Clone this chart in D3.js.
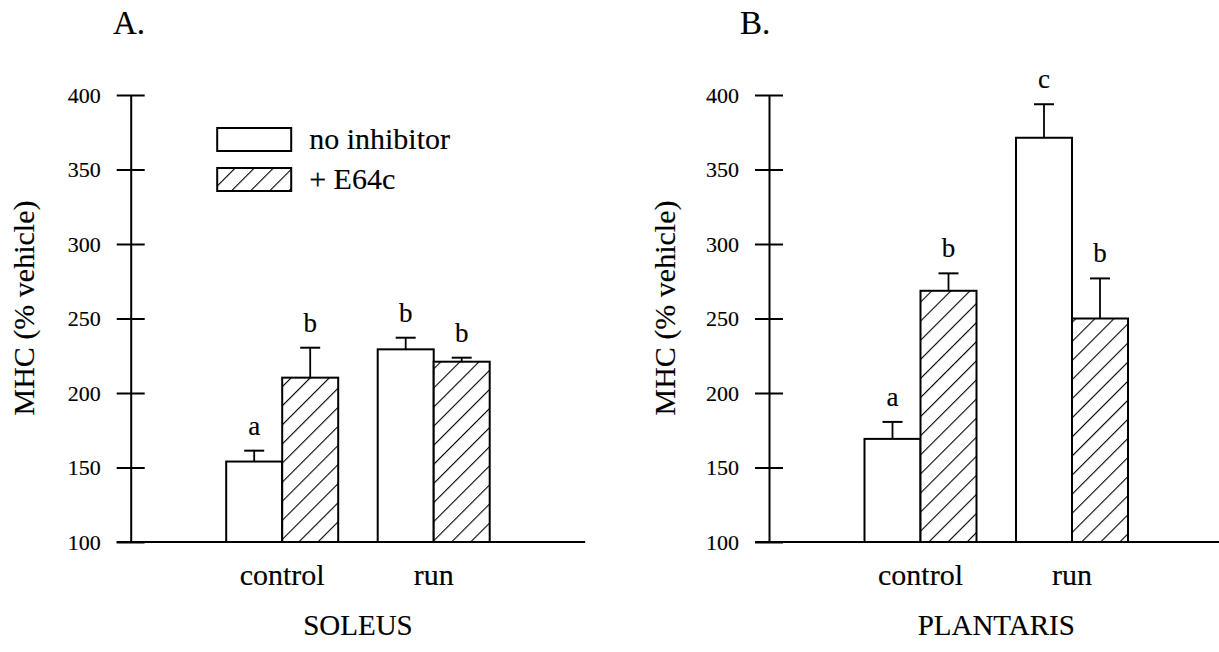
<!DOCTYPE html>
<html>
<head>
<meta charset="utf-8">
<script src="https://cdn.jsdelivr.net/npm/d3@7"></script>
<style>
  html, body { margin: 0; padding: 0; background: #fff; }
  svg { display: block; }
  text { font-family: "Liberation Serif", "Times New Roman", serif; fill: #000; stroke: #000; stroke-width: 0.15px; }
</style>
</head>
<body>
<svg id="chart" width="1219" height="652"></svg>
<script>
// ---- data ----
const categories = ["control", "run"];
const seriesNames = ["no inhibitor", "+ E64c"];
const yTicks = [100, 150, 200, 250, 300, 350, 400];

// SOLEUS (panel A)
const soleusNoInhibitor = [154, 229.3];
const soleusNoInhibitorErr = [7.3, 7.8];
const soleusE64c = [210.3, 221];
const soleusE64cErr = [20.1, 2.7];
const soleusNoInhibitorLetters = ["a", "b"];
const soleusE64cLetters = ["b", "b"];

// PLANTARIS (panel B)
const plantarisNoInhibitor = [169.2, 371.3];
const plantarisNoInhibitorErr = [11.4, 22.5];
const plantarisE64c = [268.6, 250];
const plantarisE64cErr = [11.7, 26.9];
const plantarisNoInhibitorLetters = ["a", "c"];
const plantarisE64cLetters = ["b", "b"];

const panels = [
  { label: "A.", muscle: "SOLEUS", axisX: 130.7, titleX: 113, ylabX: 34, legend: true,
    values: [soleusNoInhibitor, soleusE64c], errs: [soleusNoInhibitorErr, soleusE64cErr],
    letters: [soleusNoInhibitorLetters, soleusE64cLetters] },
  { label: "B.", muscle: "PLANTARIS", axisX: 769, titleX: 740, ylabX: 675, legend: false,
    values: [plantarisNoInhibitor, plantarisE64c], errs: [plantarisNoInhibitorErr, plantarisE64cErr],
    letters: [plantarisNoInhibitorLetters, plantarisE64cLetters] }
];

// ---- layout ----
const plotTop = 95, plotBottom = 542, plotWidth = 454.5;
const barWidth = 56, capHalf = 10, tickHalf = 14;
const ink = "#000";

const svg = d3.select("#chart");

// diagonal hatch for the E64c bars
const defs = svg.append("defs");
const pat = defs.append("pattern")
  .attr("id", "hatch")
  .attr("patternUnits", "userSpaceOnUse")
  .attr("width", 13.5).attr("height", 13.5)
  .attr("patternTransform", "rotate(45)");
pat.append("rect").attr("width", 13.5).attr("height", 13.5).attr("fill", "#fff");
pat.append("line").attr("x1", 0).attr("y1", 0).attr("x2", 0).attr("y2", 13.5)
  .attr("stroke", ink).attr("stroke-width", 2.2);

const fills = ["#fff", "url(#hatch)"];

const y = d3.scaleLinear().domain([100, 400]).range([plotBottom, plotTop]);

panels.forEach(p => {
  const g = svg.append("g");
  const x = d3.scalePoint().domain(categories)
    .range([p.axisX, p.axisX + plotWidth]).padding(1);
  const inner = d3.scaleBand().domain(seriesNames).range([-barWidth, barWidth]);

  // panel letter
  g.append("text").attr("x", p.titleX).attr("y", 34)
    .attr("font-size", 33).text(p.label);

  // y axis
  const yAxis = d3.axisLeft(y).tickValues(yTicks)
    .tickSizeInner(tickHalf).tickSizeOuter(0).tickPadding(16)
    .tickFormat(d3.format("d"));
  const ax = g.append("g").attr("transform", `translate(${p.axisX},0)`).call(yAxis);
  ax.select(".domain").attr("stroke", ink).attr("stroke-width", 2);
  ax.selectAll(".tick line").attr("x1", tickHalf).attr("stroke", ink).attr("stroke-width", 2);
  ax.selectAll(".tick text")
    .attr("font-size", 22).attr("fill", ink);

  // baseline
  g.append("line")
    .attr("x1", p.axisX - tickHalf).attr("x2", p.axisX + plotWidth)
    .attr("y1", y(100)).attr("y2", y(100))
    .attr("stroke", ink).attr("stroke-width", 2);

  // y label
  g.append("text")
    .attr("transform", `translate(${p.ylabX},308) rotate(-90)`)
    .attr("text-anchor", "middle").attr("font-size", 30)
    .text("MHC (% vehicle)");

  // bars, error bars and significance letters
  seriesNames.forEach((s, si) => {
    categories.forEach((c, ci) => {
      const v = p.values[si][ci];
      const e = p.errs[si][ci];
      const bx = x(c) + inner(s);
      const cx = bx + inner.bandwidth() / 2;
      g.append("line")
        .attr("x1", cx).attr("x2", cx).attr("y1", y(v)).attr("y2", y(v + e))
        .attr("stroke", ink).attr("stroke-width", 1.8);
      g.append("line")
        .attr("x1", cx - capHalf).attr("x2", cx + capHalf)
        .attr("y1", y(v + e)).attr("y2", y(v + e))
        .attr("stroke", ink).attr("stroke-width", 2);
      g.append("rect")
        .attr("x", bx).attr("y", y(v))
        .attr("width", inner.bandwidth()).attr("height", y(100) - y(v))
        .attr("fill", fills[si]).attr("stroke", ink).attr("stroke-width", 2);
      g.append("text")
        .attr("x", cx).attr("y", y(v + e) - 16)
        .attr("text-anchor", "middle").attr("font-size", 27)
        .text(p.letters[si][ci]);
    });
  });

  // category labels
  g.selectAll(".cat").data(categories).enter().append("text")
    .attr("x", d => x(d)).attr("y", 585)
    .attr("text-anchor", "middle").attr("font-size", 30)
    .text(d => d);

  // muscle label
  g.append("text")
    .attr("x", (x(categories[0]) + x(categories[1])) / 2).attr("y", 635)
    .attr("text-anchor", "middle").attr("font-size", 29)
    .text(p.muscle);

  // legend
  if (p.legend) {
    const lg = g.append("g").attr("transform", `translate(${p.axisX + 86.5},128)`);
    seriesNames.forEach((s, i) => {
      lg.append("rect").attr("x", 0).attr("y", i * 40)
        .attr("width", 74).attr("height", 23)
        .attr("fill", fills[i]).attr("stroke", ink).attr("stroke-width", 2);
      lg.append("text").attr("x", 92).attr("y", i * 40 + 21)
        .attr("font-size", 30)
        .text(s);
    });
  }
});
</script>
</body>
</html>
